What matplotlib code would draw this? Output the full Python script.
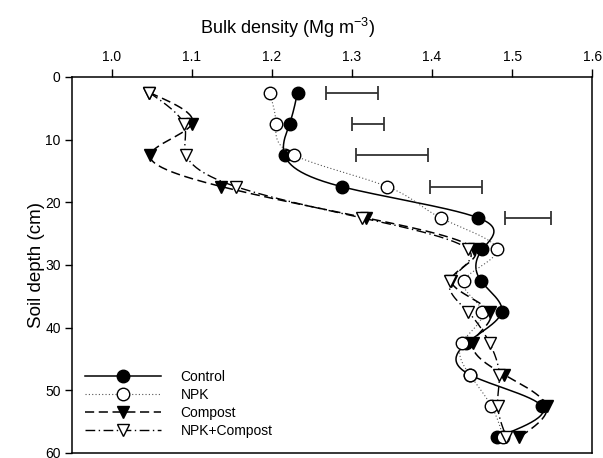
import numpy as np
import matplotlib
matplotlib.use("Agg")
import matplotlib.pyplot as plt

plt.rcParams['font.family'] = ['Liberation Sans', 'DejaVu Sans']
plt.rcParams['mathtext.default'] = 'regular'

# Soil depth (cm) of each sampling layer
depth = [2.5, 7.5, 12.5, 17.5, 22.5, 27.5, 32.5, 37.5, 42.5, 47.5, 52.5, 57.5]

# Bulk density (Mg m-3) per treatment
control = [1.232, 1.222, 1.216, 1.287, 1.458, 1.463, 1.461, 1.487, 1.443, 1.447, 1.537, 1.481]
npk = [1.197, 1.205, 1.228, 1.344, 1.411, 1.481, 1.440, 1.463, 1.437, 1.447, 1.474, 1.489]
compost = [1.047, 1.100, 1.048, 1.137, 1.318, 1.453, 1.424, 1.472, 1.451, 1.490, 1.543, 1.509]
npk_compost = [1.047, 1.090, 1.093, 1.155, 1.313, 1.445, 1.423, 1.445, 1.472, 1.484, 1.482, 1.493]

# LSD bars for the upper layers
lsd_depth = [2.5, 7.5, 12.5, 17.5, 22.5]
lsd_center = [1.300, 1.320, 1.350, 1.430, 1.520]
lsd_half = [0.033, 0.020, 0.045, 0.033, 0.029]


def smooth(y, x, n=300):
    # natural cubic spline x(y), just for drawing the curve
    y = np.asarray(y, float)
    x = np.asarray(x, float)
    m = len(y)
    h = np.diff(y)
    A = np.zeros((m, m))
    b = np.zeros(m)
    A[0, 0] = A[-1, -1] = 1
    for i in range(1, m - 1):
        A[i, i - 1] = h[i - 1]
        A[i, i] = 2 * (h[i - 1] + h[i])
        A[i, i + 1] = h[i]
        b[i] = 6 * ((x[i + 1] - x[i]) / h[i] - (x[i] - x[i - 1]) / h[i - 1])
    M = np.linalg.solve(A, b)
    yy = np.linspace(y[0], y[-1], n)
    k = np.clip(np.searchsorted(y, yy) - 1, 0, m - 2)
    t1 = y[k + 1] - yy
    t0 = yy - y[k]
    hk = h[k]
    xx = (M[k] * t1**3 + M[k + 1] * t0**3) / (6 * hk) \
        + (x[k] / hk - M[k] * hk / 6) * t1 + (x[k + 1] / hk - M[k + 1] * hk / 6) * t0
    return xx, yy


fig = plt.figure(figsize=(6.03, 4.58), dpi=100)
ax = fig.add_axes([0.119, 0.011, 0.863, 0.821])

series = [
    ("Control", control, dict(ls='-', lw=1.1, color='black'), dict(marker='o', mfc='black')),
    ("NPK", npk, dict(ls=(0, (1, 2)), lw=0.8, color='#555555'), dict(marker='o', mfc='white')),
    ("Compost", compost, dict(ls=(0, (6, 3)), lw=1.1, color='black'), dict(marker='v', mfc='black')),
    ("NPK+Compost", npk_compost, dict(ls=(0, (7, 2.5, 1, 2.5)), lw=1.0, color='black'), dict(marker='v', mfc='white')),
]

handles = []
for z, (name, vals, lsty, msty) in enumerate(series):
    xx, yy = smooth(depth, vals)
    ax.plot(xx, yy, zorder=2 + z, **lsty)
    ax.plot(vals, depth, ls='none', ms=9, mec='black', mew=1.0, zorder=2 + z, **msty)
    h, = ax.plot([], [], ms=9, mec='black', mew=1.0, **lsty, **msty)
    handles.append(h)

ax.errorbar(lsd_center, lsd_depth, xerr=lsd_half, fmt='none', ecolor='#333333',
            elinewidth=1.3, capsize=5, capthick=1.3)

ax.set_xlim(0.95, 1.6)
ax.set_ylim(60, 0)
ax.set_xticks(np.arange(1.0, 1.61, 0.1))
ax.set_yticks(range(0, 61, 10))
ax.xaxis.tick_top()
ax.tick_params(axis='x', direction='out', length=6, width=1, labelsize=10, pad=3)
ax.tick_params(axis='y', direction='out', length=5, width=1, labelsize=10, pad=3)
for s in ax.spines.values():
    s.set_linewidth(1.1)

ax.set_ylabel("Soil depth (cm)", fontsize=13.5, labelpad=0)
fig.text(0.476, 0.938, "Bulk density (Mg m$^{-3}$)", ha='center', va='center', fontsize=13)

ax.legend(handles, [s[0] for s in series], loc='lower left', bbox_to_anchor=(0.025, 0.039),
          frameon=False, fontsize=10, handlelength=5.5, handletextpad=1.4,
          labelspacing=0.3, borderpad=0, borderaxespad=0)

fig.savefig("out.png", dpi=100)
